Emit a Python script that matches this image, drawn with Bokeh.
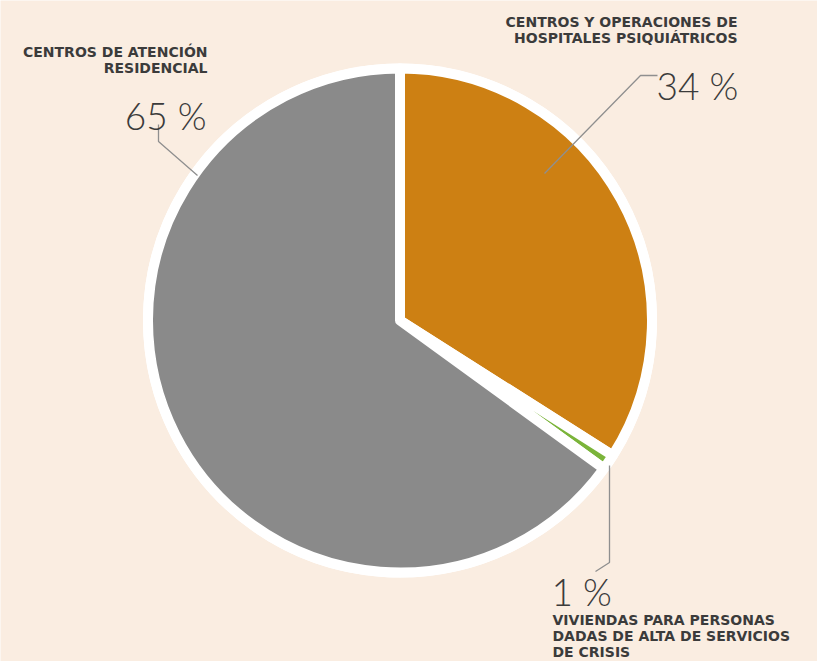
import math
from bokeh.plotting import figure
from bokeh.models import Range1d, ColumnDataSource, Label
from bokeh.embed import file_html
from bokeh.resources import INLINE

# ---- data ----
categories = ["CENTROS Y OPERACIONES DE\nHOSPITALES PSIQUIÁTRICOS",
              "VIVIENDAS PARA PERSONAS\nDADAS DE ALTA DE SERVICIOS\nDE CRISIS",
              "CENTROS DE ATENCIÓN\nRESIDENCIAL"]
values = [34, 1, 65]
colors = ["#CD8013", "#7BB43A", "#8A8A8A"]

BG = "#FAEDE1"
TXT = "#3B3B3B"
LEAD = "#8F8F8F"

PAGE_W, PAGE_H = 817, 661
W, H = 817, 661


def Y(py):
    return PAGE_H - py


p = figure(width=W, height=H, output_backend="svg", toolbar_location=None,
           x_range=Range1d(0, W), y_range=Range1d(Y(H), Y(0)),
           min_border=0, outline_line_color=None)
p.axis.visible = False
p.grid.visible = False
p.background_fill_color = BG
p.border_fill_color = BG

cx, cy = 399.5, Y(320)

# white disc behind
p.circle(x=[cx], y=[cy], radius=257, fill_color="white", line_color=None)

# wedges, clockwise from 12 o'clock
total = sum(values)
starts, ends = [], []
a = math.pi / 2
for v in values:
    span = 2 * math.pi * v / total
    ends.append(a)
    starts.append(a - span)
    a -= span
src = ColumnDataSource(dict(start=starts, end=ends, color=colors))
p.wedge(x=cx, y=cy, radius=252, start_angle="start", end_angle="end",
        fill_color="color", line_color="white", line_width=10,
        line_join="round", source=src)

# leader lines (page pixel coordinates)
leaders = [
    [(657, 75), (640, 75), (544, 173)],          # 34 %
    [(609, 465), (609, 562), (595, 571)],        # 1 %
    [(158, 124), (158, 141), (197, 175)],        # 65 %
]
for pts in leaders:
    p.line(x=[q[0] for q in pts], y=[Y(q[1]) for q in pts],
           line_color=LEAD, line_width=1.3)

# percent labels: (x, baseline, align)
pct_pos = [(656, 85, "left"), (551, 591, "left"), (206, 115, "right")]
for v, (x, by, al) in zip(values, pct_pos):
    p.add_layout(Label(x=x, y=Y(by), text=f"{v} %", text_font="Lato Light",
                       text_font_size="37px", text_color=TXT,
                       text_align=al, text_baseline="alphabetic"))

# category labels: (x, first baseline, align, line step)
cat_pos = [(737, 21, "right", 16.5), (552, 619, "left", 16), (207, 51, "right", 16.5)]
for c, (x, by, al, step) in zip(categories, cat_pos):
    for i, line in enumerate(c.split("\n")):
        p.add_layout(Label(x=x, y=Y(by + i * step), text=line,
                           text_font="DejaVu Sans", text_font_style="bold",
                           text_font_size="14px", text_color=TXT,
                           text_align=al, text_baseline="alphabetic"))

html = file_html(p, INLINE)
html = html.replace("<body>", f'<body style="background-color:{BG};">', 1)
open("out.html", "w").write(html)
